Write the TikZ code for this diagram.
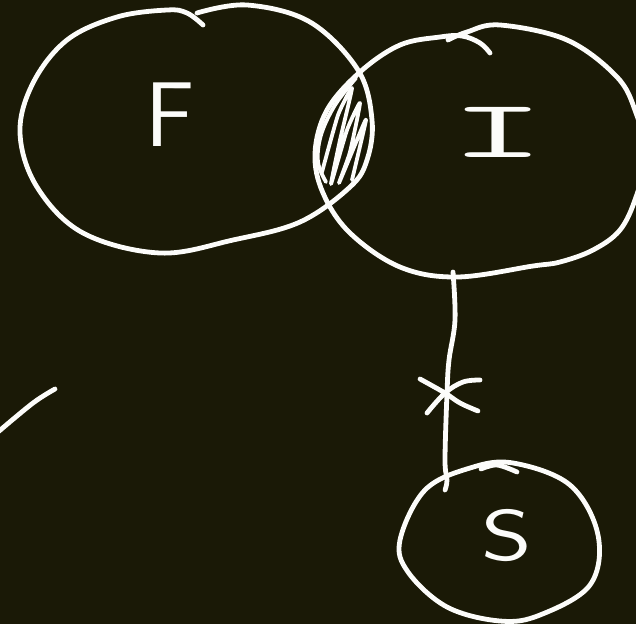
\documentclass[tikz,border=0pt]{standalone}
\usepackage{xcolor}
\definecolor{board}{RGB}{26,25,6}
\definecolor{chalk}{RGB}{252,252,250}
\begin{document}
\begin{tikzpicture}[x=1pt,y=-1pt,
  stroke/.style={draw=chalk,line width=4.8pt,line cap=round,line join=round},
  hatch/.style={draw=chalk,line width=3.8pt,line cap=round,line join=round},
  letter/.style={text=chalk,inner sep=0pt,font=\sffamily}]
\fill[board] (0,0) rectangle (636,624);
\useasboundingbox (0,0) rectangle (636,624);
\clip (0,0) rectangle (636,624);

% F blob
\draw[stroke] plot[smooth,tension=0.6] coordinates {(197,13) (247,5) (310,22) (358,70) (372,120) (367,160) (350,187) (300,222) (233,240) (160,253) (83,233) (37,187) (20,133) (33,83) (67,40) (117,17) (167,10) (187,13) (203,25)};

% I blob
\draw[stroke] plot[smooth,tension=0.6] coordinates {(448,40) (467,32) (500,25) (567,40) (617,77) (636,113) (646,155) (636,197) (620,230) (593,250) (560,262) (533,266) (457,277) (400,267) (350,233) (323,193) (315,153) (327,110) (360,72) (400,45) (440,37) (462,36) (480,43) (490,53)};

% S blob
\draw[stroke] plot[smooth cycle,tension=0.6] coordinates {(400,540) (425,490) (470,468) (513,463) (570,485) (598,535) (590,585) (540,615) (500,621) (447,607) (408,572)};
\draw[stroke] plot[smooth,tension=0.6] coordinates {(481,469) (497,465) (517,472)};

% hatched intersection
\draw[hatch] plot[smooth,tension=0.6] coordinates {(356,78) (335,105) (321,135) (318,162) (326,182)};
\draw[hatch] plot[smooth,tension=0.3] coordinates {(322,172) (338,115) (352,88) (340,140) (331,184) (347,130) (360,103) (350,152) (339,183) (357,140) (366,120) (352,180)};

% letters
\node[letter,font=\sffamily\fontsize{92}{92}\selectfont] (F) at (170,115) {F};
\node[letter,font=\ttfamily\fontsize{82}{82}\selectfont,xscale=2.3,transform shape] (I) at (498,132) {I};
\node[letter,font=\sffamily\fontsize{72}{72}\selectfont,xscale=1.35,transform shape] (S) at (507,536) {S};

% connector I -> S with cross
\coordinate (top) at (453,272);
\coordinate (bot) at (445,490);
\draw[stroke] plot[smooth,tension=0.6] coordinates {(top) (455,320) (449,360) (447,393) (445,460) (447,480) (bot)};
\draw[stroke] plot[smooth,tension=0.6] coordinates {(420,379) (445,393) (460,403) (478,411)};
\draw[stroke] plot[smooth,tension=0.6] coordinates {(480,380) (463,382) (445,393) (427,413)};

% stray stroke
\draw[stroke] plot[smooth,tension=0.6] coordinates {(-2,432) (33,403) (55,389)};
\end{tikzpicture}
\end{document}
